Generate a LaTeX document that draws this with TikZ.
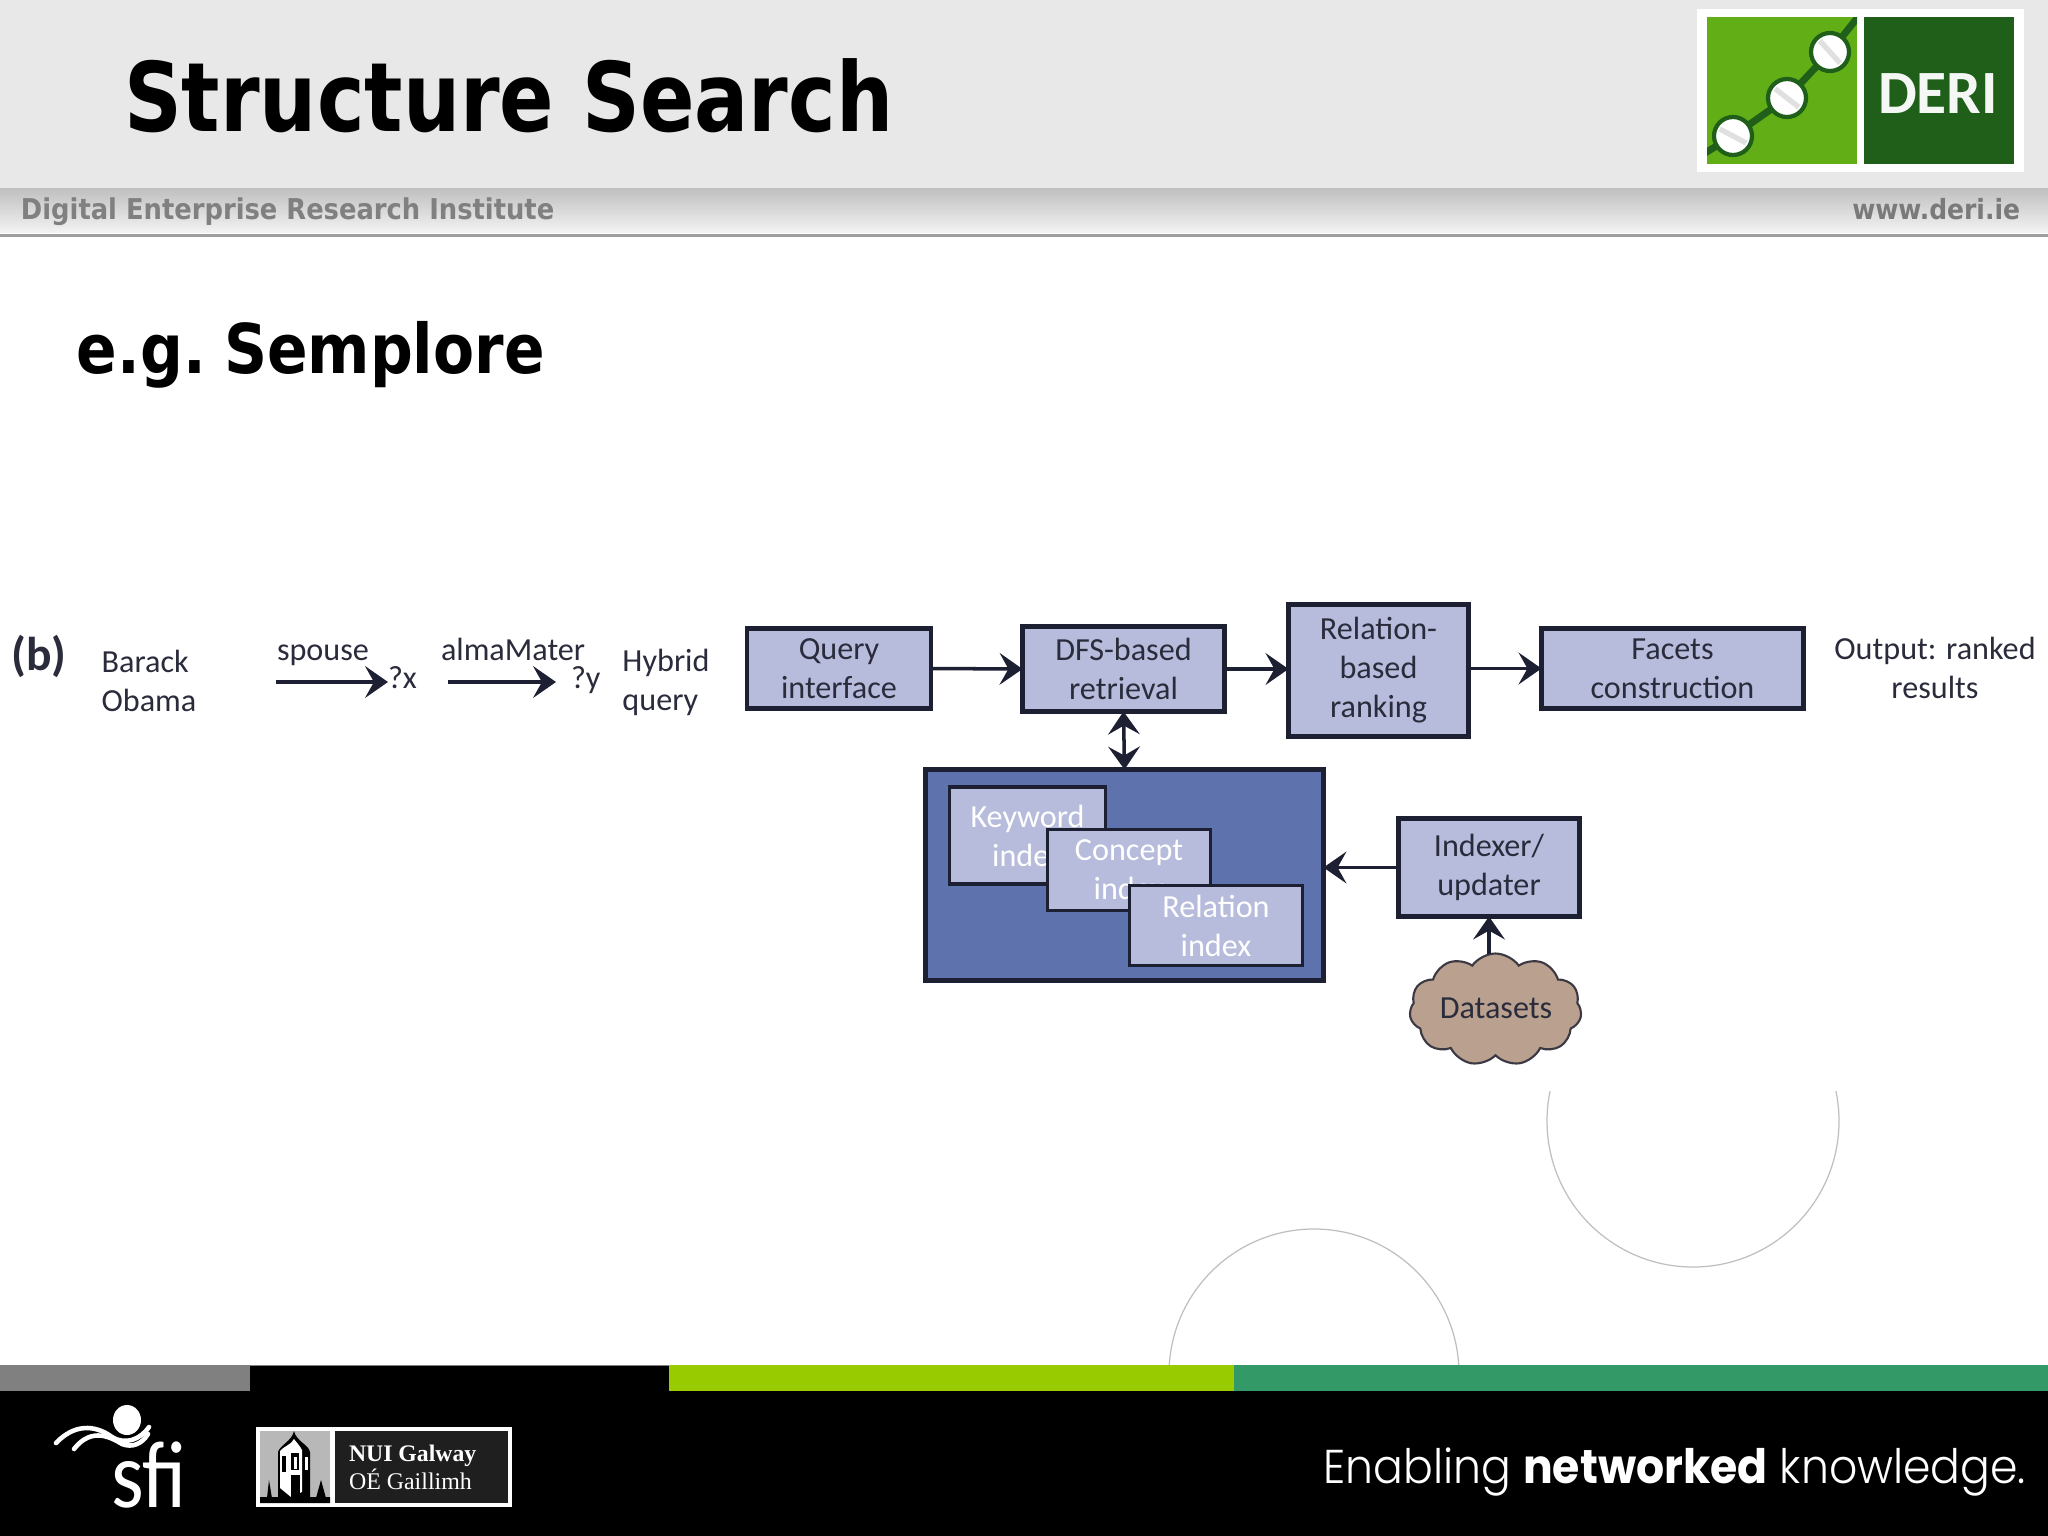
\documentclass[tikz,border=0pt]{standalone}
\usepackage{fontspec}
\usetikzlibrary{arrows.meta, shapes.symbols}
\newfontfamily\headfont[FakeStretch=0.93]{DejaVu Sans Condensed}
\newfontfamily\subfont[FakeStretch=0.97]{DejaVu Sans Condensed}
\newfontfamily\sitefont{DejaVu Sans Condensed}
\newfontfamily\figfont{Carlito}
\newfontfamily\sfifont[FakeStretch=0.88]{Carlito}
\newfontfamily\nuifont{Liberation Serif}
\newfontfamily\tagfont[UprightFont=* Light, BoldFont=* Bold, FakeStretch=0.93]{Poppins}
\definecolor{boxfill}{HTML}{B7BCDC}
\definecolor{boxline}{HTML}{1D1F33}
\definecolor{storefill}{HTML}{5E73AE}
\definecolor{cloudfill}{HTML}{B9A08F}
\definecolor{figtext}{HTML}{2A2C3C}
\definecolor{logolime}{HTML}{62AE16}
\definecolor{logodark}{HTML}{1F5F1A}
\definecolor{stripelime}{HTML}{99CC00}
\definecolor{stripegreen}{HTML}{339966}
\begin{document}
\begin{tikzpicture}[x=0.01cm, y=-0.01cm,
	every node/.style={inner sep=0pt, outer sep=0pt},
	boxsize/.style 2 args={minimum width=#1*0.01cm, minimum height=#2*0.01cm},
	figlabel/.style={font=\figfont\fontsize{9.15}{11.1}\selectfont, text=figtext},
	stagebox/.style={figlabel, draw=boxline, fill=boxfill, line width=1.2pt, align=center},
	indexbox/.style={stagebox, text=white, line width=1.1pt},
	flow/.style={-{Stealth[length=6.5pt, width=9pt, inset=2.5pt]}, line width=1pt, draw=boxline},
	]
	\useasboundingbox (0,0) rectangle (2048,1536);

	% header
	\fill[white] (0,0) rectangle (2048,1536);
	\fill[black!9] (0,0) rectangle (2048,188);
	\shade[top color=black!25, bottom color=black!5] (0,188) rectangle (2048,232);
	\fill[black!38] (0,234) rectangle (2048,237);
	\node[anchor=base west, font=\headfont\bfseries\fontsize{27.3}{30}\selectfont] (title) at (124,131) {Structure Search};
	\node[anchor=base west, font=\sitefont\bfseries\fontsize{8.15}{9}\selectfont, text=black!50] (institute) at (21,219) {Digital Enterprise Research Institute};
	\node[anchor=base east, font=\sitefont\bfseries\fontsize{7.9}{9}\selectfont, text=black!52] (website) at (2020,219) {www.deri.ie};
	\node[anchor=base west, font=\subfont\bfseries\fontsize{19.5}{22}\selectfont] (subtitle) at (77,373) {e.g.\hspace{-0.14em} Semplore};

	% deri logo
	\fill[white] (1697,9) rectangle (2024,172);
	\fill[logolime] (1707,17) rectangle (1857,164);
	\fill[logodark] (1864,17) rectangle (2014,164);
	\begin{scope}
		\clip (1707,17) rectangle (1857,164);
		\draw[logodark, line width=2pt] (1700,156) -- (1733,136) -- (1787,98) -- (1830,52) -- (1862,12);
	\end{scope}
	\foreach \cx/\cy/\ang in {1733/136/-28, 1787/98/-38, 1830/52/-48} {
		\fill[white, draw=logodark, line width=1.2pt] (\cx,\cy) circle (19);
		\draw[black!12, line width=1.5pt, rotate around={\ang:(\cx,\cy)}] (\cx-15,\cy) -- (\cx+15,\cy);
	}
	\node[font=\figfont\bfseries\fontsize{17.5}{20}\selectfont, text=white!95!logodark] (derimark) at (1938,94) {DERI};

	% query pipeline
	\node[anchor=base, font=\figfont\bfseries\fontsize{13.5}{15}\selectfont, text=figtext] (panel) at (39,670) {(b)};
	\node[figlabel, align=left] (entity) at (149,681) {Barack\\Obama};
	\node[figlabel, anchor=base west] (spouse) at (277,660) {spouse};
	\node[figlabel, anchor=base west] (almamater) at (441,660) {almaMater};
	\node[figlabel, anchor=base west] (varx) at (388,688) {?x};
	\node[figlabel, anchor=base west] (vary) at (571,688) {?y};
	\coordinate (spousetail) at (276,682);
	\coordinate (almatail) at (448,682);
	\coordinate (varyend) at (556,682);
	\draw[flow] (spousetail) -- (spousetail -| varx.west);
	\draw[flow] (almatail) -- (varyend);
	\node[figlabel, align=left] (hybrid) at (666,682) {Hybrid\\query};

	\node[stagebox, boxsize={184}{80}] (query) at (839,668.5) {Query\\interface};
	\node[stagebox, boxsize={202}{85}] (dfs) at (1123.5,669) {DFS-based\\retrieval};
	\node[stagebox, boxsize={180}{132}] (ranking) at (1378.5,670.5) {Relation-\\based\\ranking};
	\node[stagebox, boxsize={262}{80}] (facets) at (1672.5,668.5) {Facets\\construction};
	\node[figlabel, align=center] (output) at (1935,668) {Output: ranked\\results};

	\draw[flow] (query.east) -- (dfs.west);
	\draw[flow] (dfs.east) -- (dfs.east -| ranking.west);
	\draw[flow] (ranking.east |- facets.west) -- (facets.west);

	% index store
	\node[draw=boxline, fill=storefill, line width=1.2pt, boxsize={398}{211}] (store) at (1124.5,875) {};
	\node[indexbox, boxsize={156}{97}] (keyword) at (1027.5,835.5) {Keyword\\index};
	\node[indexbox, boxsize={163}{81}] (concept) at (1129,870) {Concept\\index};
	\node[indexbox, boxsize={173}{80}] (relation) at (1216,925.5) {Relation\\index};
	\draw[flow, {Stealth[length=6.5pt, width=9pt, inset=2.5pt]}-{Stealth[length=6.5pt, width=9pt, inset=2.5pt]}] (dfs.south) -- (store.north);

	\node[stagebox, boxsize={181}{98}] (indexer) at (1489,867.5) {Indexer/\\updater};
	\node[cloud, cloud puffs=11, cloud puff arc=110, aspect=1.5, draw=boxline!80!cloudfill, fill=cloudfill, line width=0.6pt, boxsize={172}{112}] (datasets) at (1495.5,1009.5) {};
	\node[figlabel] (datasetslabel) at (1496,1008) {Datasets};
	\draw[flow] (datasets.north -| indexer.south) -- (indexer.south);
	\draw[flow] (indexer.west) -- (indexer.west -| store.east);

	% background arcs
	\begin{scope}
		\clip (1500,1091) rectangle (1900,1300);
		\draw[black!25, line width=0.35pt] (1693,1121) circle (146);
	\end{scope}
	\begin{scope}
		\clip (1100,1200) rectangle (1500,1365);
		\draw[black!25, line width=0.35pt] (1314,1374) circle (145);
	\end{scope}

	% footer
	\fill[black] (0,1365) rectangle (2048,1536);
	\fill[black!50] (0,1365) rectangle (250,1391);
	\fill[black!50] (250,1365) rectangle (669,1366);
	\fill[stripelime] (669,1365) rectangle (1234,1391);
	\fill[stripegreen] (1234,1365) rectangle (2048,1391);

	% sfi logo
	\fill[white] (127,1420) ellipse (14 and 15);
	\draw[white, line width=1.3pt, line cap=round] (56,1443) .. controls (78,1420) and (100,1428) .. (112,1437) .. controls (125,1445) and (140,1440) .. (149,1427);
	\draw[white, line width=1.3pt, line cap=round] (74,1449) .. controls (92,1426) and (112,1438) .. (122,1444) .. controls (132,1448) and (142,1444) .. (148,1434);
	\node[anchor=base west, font=\sfifont\fontsize{27}{29}\selectfont, text=white] (sfilogo) at (111,1507) {sfi};

	% nui galway logo
	\fill[white] (256,1427) rectangle (512,1507);
	\fill[black!28] (260,1431) rectangle (330,1503);
	\fill[black!88] (335,1431) rectangle (508,1503);
	\fill[black] (294,1431) .. controls (296,1441) and (309,1445) .. (310,1452) -- (310,1497) -- (330,1497) -- (330,1503) -- (260,1503) -- (260,1497) -- (278,1497) -- (278,1452) .. controls (280,1445) and (292,1441) .. (294,1431) -- cycle;
	\fill[black] (267,1498) -- (269,1480) -- (272,1498) -- cycle;
	\fill[black] (316,1498) -- (321,1480) -- (326,1498) -- cycle;
	\fill[white] (280,1451) .. controls (284,1446) and (291,1445) .. (294,1439) .. controls (297,1443) and (300,1446) .. (302,1450) -- (302,1492) -- (291,1497) -- (280,1488) -- cycle;
	\fill[black] (282,1456) rectangle (286,1472);
	\fill[black] (291,1453) rectangle (299,1470);
	\fill[white] (294,1457) rectangle (297,1469);
	\fill[black] (291,1475) rectangle (300,1497);
	\fill[white] (305,1457) rectangle (308,1470);
	\node[anchor=base west, font=\nuifont\bfseries\fontsize{6.75}{9}\selectfont, text=white] (nuiname) at (349,1461) {NUI Galway};
	\node[anchor=base west, font=\nuifont\fontsize{6.8}{9}\selectfont, text=white] (nuiirish) at (349,1489) {OÉ Gaillimh};

	\node[anchor=base east, font=\tagfont\fontsize{13.5}{15}\selectfont, text=white] (tagline) at (2026,1483) {Enabling \textbf{networked} knowledge.};
\end{tikzpicture}
\end{document}
